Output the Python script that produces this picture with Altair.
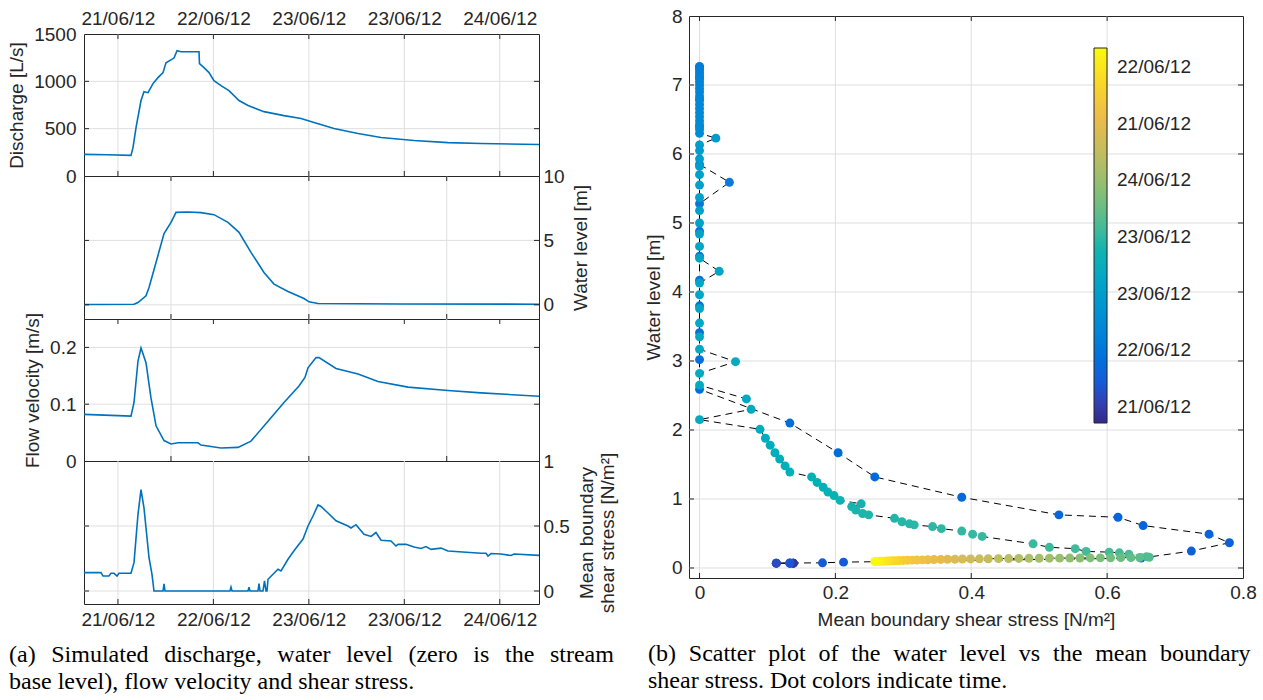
import altair as alt
import pandas as pd

INK = "#262626"
GRID_CLR = "#dfdfdf"
LINE_CLR = "#0072BD"
SANS = "Liberation Sans"
SERIF = "Liberation Serif"
FS = 19
TICK = 5

# ---------------------------------------------------------------------------
# Time axis: hours after 21/06/12 00:00
# ---------------------------------------------------------------------------
T_DOMAIN = [5.6, 91.4]
DATE_TICKS = [12, 30, 48, 66, 84]
DATE_LABELS = ["21/06/12", "22/06/12", "23/06/12", "23/06/12", "24/06/12"]
MID_TICKS = [22, 48, 74]

# Simulated discharge [L/s]
q_hours = [5.6, 10.0, 14.46, 14.84, 15.41, 16.35, 16.91, 17.67, 18.61, 19.55,
           20.50, 21.06, 22.38, 22.57, 23.14, 23.89, 27.29, 27.38, 28.23, 29.17,
           30.11, 31.43, 32.94, 34.83, 36.53, 39.54, 43.31, 46.52, 48.97, 52.74,
           57.27, 61.61, 67.83, 74.24, 80.46, 91.4]
q_values = [228, 224, 218, 300, 512, 797, 891, 880, 976, 1039,
            1092, 1197, 1240, 1247, 1324, 1313, 1313, 1187, 1145, 1092,
            1008, 955, 902, 797, 744, 680, 638, 607, 564, 501,
            448, 406, 375, 353, 343, 332]

# Water level [m]
wl_hours = [5.6, 15.03, 15.78, 17.29, 17.86, 19.18, 20.69, 22.01, 22.95, 25.21,
            27.66, 30.11, 32.75, 34.83, 37.09, 39.54, 41.43, 44.07, 47.08, 48.03,
            49.73, 65.38, 91.4]
wl_values = [0.03, 0.05, 0.18, 0.70, 1.35, 3.29, 5.53, 6.40, 7.18, 7.21,
             7.16, 7.00, 6.40, 5.63, 4.07, 2.51, 1.61, 1.04, 0.49, 0.23,
             0.10, 0.06, 0.05]

# Flow velocity [m/s]
v_hours = [5.6, 14.46, 15.03, 15.78, 16.35, 17.29, 18.23, 19.18, 20.69, 22.01,
           23.33, 27.10, 27.66, 31.43, 34.64, 37.09, 40.30, 43.31, 46.14, 47.27,
           47.84, 49.35, 49.92, 53.12, 57.27, 61.04, 66.70, 74.24, 80.46, 91.4]
v_values = [0.082, 0.079, 0.103, 0.176, 0.199, 0.173, 0.111, 0.062, 0.036, 0.030,
            0.032, 0.032, 0.028, 0.023, 0.024, 0.035, 0.070, 0.103, 0.132, 0.147,
            0.164, 0.182, 0.182, 0.163, 0.153, 0.140, 0.130, 0.124, 0.120, 0.114]

# Mean boundary shear stress [N/m2]
tau_hours = [5.6, 8.81, 9.18, 10.31, 10.69, 11.26, 11.82, 12.20, 14.46, 15.03,
             15.78, 16.35, 16.91, 17.86, 18.42, 18.80, 20.50, 20.69, 20.87, 33.13,
             33.32, 33.51, 36.53, 36.71, 36.90, 38.41, 38.60, 38.79, 39.35, 39.64,
             39.92, 40.11, 40.30, 42.18, 42.75, 44.07, 45.20, 46.90, 47.84, 48.78,
             49.73, 50.29, 51.61, 53.12, 55.38, 55.95, 56.89, 58.40, 59.72, 60.66,
             61.61, 63.49, 64.43, 64.81, 66.32, 67.83, 69.15, 70.09, 71.03, 72.92,
             74.24, 80.46, 81.41, 81.78, 82.35, 84.23, 86.12, 86.69, 91.4]
tau_values = [0.141, 0.141, 0.115, 0.115, 0.136, 0.136, 0.115, 0.136, 0.136, 0.218,
              0.590, 0.780, 0.640, 0.256, 0.128, 0.0, 0.0, 0.054, 0.0, 0.0,
              0.030, 0.0, 0.0, 0.030, 0.0, 0.0, 0.056, 0.0, 0.0, 0.077,
              0.0, 0.0, 0.090, 0.167, 0.154, 0.244, 0.310, 0.400, 0.500, 0.577,
              0.662, 0.650, 0.600, 0.540, 0.500, 0.485, 0.510, 0.436, 0.420, 0.450,
              0.390, 0.385, 0.346, 0.359, 0.360, 0.338, 0.327, 0.342, 0.320, 0.330,
              0.308, 0.290, 0.290, 0.269, 0.288, 0.285, 0.273, 0.285, 0.274]

# Scatter: time [h], shear stress [N/m2], water level [m]
sc_time = [6.0, 7.0, 8.0, 9.0, 10.0, 11.0, 12.0, 13.0, 14.0,
           14.8, 15.3, 15.8, 16.2, 16.5, 16.9, 17.3, 17.6, 17.9, 18.3, 18.7, 19.1, 19.5, 19.9,
           20.2, 20.5, 20.8, 21.1, 21.4, 21.7, 22.0, 22.3, 22.6, 22.9, 23.1, 23.3, 23.5,
           23.8, 24.1, 24.4, 24.7,
           25.0, 25.25, 25.5, 25.75, 26.0, 26.25, 26.5, 26.75, 27.0, 27.25, 27.5, 27.75, 28.0,
           28.25, 28.5, 28.75, 29.0,
           34.3, 34.6, 34.9, 35.2, 35.5, 35.8, 36.1, 36.4, 36.7, 37.0, 37.3, 37.6, 37.9,
           38.2, 38.5, 38.8, 39.1, 39.4, 39.6, 39.8, 40.0, 40.2, 40.4, 40.6, 40.8, 41.0, 41.2,
           41.5, 41.8, 42.1, 42.4, 42.7, 43.0, 43.3, 43.6, 43.9, 44.2, 44.5, 44.8, 45.1,
           45.4, 45.7, 46.0, 46.3, 46.6, 46.9, 47.2, 47.5, 47.8, 48.1, 48.4, 48.7, 49.0,
           49.3, 49.6, 49.9, 50.2, 50.5, 50.8, 51.1, 51.4,
           52, 53, 54, 55, 56, 57, 58, 59, 60, 61, 62, 63, 64, 65, 66, 67, 68, 69, 70, 71,
           72, 73, 74, 75, 76, 77, 78, 79, 80, 81, 82, 83, 84, 85, 86, 87, 88, 89, 90, 91]
sc_tau = [0.138, 0.138, 0.138, 0.113, 0.113, 0.133, 0.113, 0.133, 0.133,
          0.181, 0.212, 0.650, 0.724, 0.780, 0.750, 0.653, 0.616, 0.529, 0.386, 0.258, 0.204, 0.133, 0.0,
          0.0, 0.0, 0.0, 0.0, 0.0, 0.0, 0.0, 0.044, 0.0, 0.0, 0.0, 0.0, 0.0,
          0.0, 0.0, 0.0, 0.0,
          0.0, 0.0, 0.0, 0.0, 0.0, 0.0, 0.0, 0.0, 0.0, 0.0, 0.0, 0.0, 0.0,
          0.0, 0.0, 0.0, 0.0,
          0.024, 0.0, 0.0, 0.0, 0.0, 0.0, 0.0, 0.0, 0.0, 0.0, 0.0, 0.0, 0.0,
          0.029, 0.0, 0.0, 0.0, 0.0, 0.0, 0.0, 0.053, 0.0, 0.0, 0.069, 0.076, 0.0, 0.089,
          0.097, 0.104, 0.111, 0.118, 0.126, 0.133, 0.165, 0.173, 0.182, 0.189, 0.198, 0.207, 0.238,
          0.224, 0.230, 0.240, 0.249, 0.287, 0.298, 0.309, 0.316, 0.343, 0.356, 0.386, 0.402, 0.416,
          0.491, 0.515, 0.553, 0.569, 0.603, 0.618, 0.632, 0.658,
          0.662, 0.648, 0.635, 0.620, 0.605, 0.590, 0.575, 0.560, 0.545, 0.530, 0.515, 0.500,
          0.485, 0.470, 0.455, 0.440, 0.425, 0.412, 0.399, 0.387, 0.376, 0.365, 0.355, 0.345,
          0.336, 0.328, 0.320, 0.313, 0.306, 0.300, 0.294, 0.289, 0.284, 0.280, 0.276, 0.272,
          0.268, 0.265, 0.261, 0.258]
sc_level = [0.07, 0.07, 0.07, 0.07, 0.07, 0.07, 0.07, 0.07, 0.072,
            0.075, 0.085, 0.144, 0.245, 0.366, 0.490, 0.615, 0.735, 0.770, 1.025, 1.320, 1.670, 2.100, 2.59,
            3.02, 3.41, 3.80, 4.17, 4.52, 4.88, 5.28, 5.59, 5.85, 6.40, 6.80, 7.10, 7.25,
            7.27, 7.26, 7.24, 7.22,
            7.18, 7.14, 7.10, 7.05, 7.00, 6.95, 6.90, 6.84, 6.78, 6.72, 6.66, 6.60, 6.54,
            6.48, 6.42, 6.36, 6.30,
            6.23, 6.13, 6.05, 5.93, 5.82, 5.70, 5.55, 5.37, 5.18, 5.00, 4.84, 4.66, 4.49,
            4.30, 4.13, 3.96, 3.76, 3.55, 3.35, 3.17, 2.99, 2.82, 2.65, 2.45, 2.30, 2.15, 2.01,
            1.88, 1.78, 1.67, 1.58, 1.48, 1.39, 1.32, 1.24, 1.17, 1.10, 1.05, 0.98, 0.93,
            0.89, 0.84, 0.79, 0.77, 0.72, 0.67, 0.64, 0.625, 0.60, 0.57, 0.535, 0.49, 0.457,
            0.35, 0.30, 0.28, 0.24, 0.23, 0.22, 0.20, 0.164,
            0.155, 0.152, 0.150, 0.150, 0.148, 0.147, 0.146, 0.145, 0.144, 0.143, 0.142, 0.141,
            0.140, 0.139, 0.137, 0.136, 0.134, 0.133, 0.131, 0.130, 0.128, 0.126, 0.124, 0.122,
            0.120, 0.118, 0.116, 0.114, 0.112, 0.110, 0.108, 0.106, 0.104, 0.102, 0.100, 0.099,
            0.098, 0.097, 0.096, 0.095]

# Parula colour map sampled at 11 evenly spaced times across the record
PARULA_T = [5.6, 14.18, 22.76, 31.34, 39.92, 48.5, 57.08, 65.66, 74.24, 82.82, 91.4]
PARULA = ["#352a87", "#1a57d8", "#1079da", "#0c93d2", "#07a9c2", "#33b8a1",
          "#7cbf7b", "#b7bd64", "#e9b94e", "#f9d329", "#f9fb0e"]
CB_TICKS = [9.2, 22.2, 35.2, 48.1, 61.1, 74.1, 87.0]
CB_LABELS = ["21/06/12", "22/06/12", "23/06/12", "23/06/12", "24/06/12", "21/06/12", "22/06/12"]

# Captions; the first line of each is set justified with thin spaces
CAPTION_A = ["(a) Simulated discharge, water level (zero is the stream",
             "base level), flow velocity and shear stress."]
CAPTION_B = ["(b) Scatter plot of the water level vs the mean boundary",
             "shear stress. Dot colors indicate time."]

PANEL_W = 455
H_Q, H_WL, H_V, H_TAU = 142, 143, 142, 143
SC_W, SC_H = 554, 562


def justify(lines, gap):
    return [lines[0].replace(" ", " " + gap)] + lines[1:]


def label_expr(values, labels):
    expr = "''"
    for v, lab in reversed(list(zip(values, labels))):
        expr = f"abs(datum.value - {v}) < 0.01 ? '{lab}' : {expr}"
    return expr


def ticks_df(values):
    return pd.DataFrame({"v": values})


def grid_x(values, scale):
    return alt.Chart(ticks_df(values)).mark_rule(color=GRID_CLR, strokeWidth=1).encode(
        x=alt.X("v:Q", scale=scale, axis=None))


def grid_y(values, scale):
    return alt.Chart(ticks_df(values)).mark_rule(color=GRID_CLR, strokeWidth=1).encode(
        y=alt.Y("v:Q", scale=scale, axis=None))


def ticks_x(values, scale, height, side):
    y0, y1 = (0, TICK) if side == "top" else (height - TICK, height)
    return alt.Chart(ticks_df(values)).mark_rule(color=INK, strokeWidth=1).encode(
        x=alt.X("v:Q", scale=scale, axis=None), y=alt.value(y0), y2=alt.value(y1))


def ticks_y(values, scale, width, side):
    x0, x1 = (0, TICK) if side == "left" else (width - TICK, width)
    return alt.Chart(ticks_df(values)).mark_rule(color=INK, strokeWidth=1).encode(
        y=alt.Y("v:Q", scale=scale, axis=None), x=alt.value(x0), x2=alt.value(x1))


def time_axis(orient, pad):
    return alt.Axis(orient=orient, values=DATE_TICKS,
                    labelExpr=label_expr(DATE_TICKS, DATE_LABELS),
                    title=None, labelPadding=pad)


def left_axis(values, title):
    return alt.Axis(orient="left", values=values, title=title, format="~r",
                    labelPadding=8, titlePadding=7)


def right_axis(values, title, title_pad):
    return alt.Axis(orient="right", values=values, title=title, format="~r",
                    labelPadding=4, titlePadding=title_pad, titleAngle=270,
                    titleBaseline="top", titleLineHeight=21)


x_time = alt.Scale(domain=T_DOMAIN, nice=False, zero=False)


def series(hours, values, yscale, xaxis, yaxis):
    df = pd.DataFrame({"h": hours, "val": values})
    return alt.Chart(df).mark_line(color=LINE_CLR, strokeWidth=1.6, clip=True).encode(
        x=alt.X("h:Q", scale=x_time, axis=xaxis),
        y=alt.Y("val:Q", scale=yscale, axis=yaxis))


def panel(layers, width, height, **props):
    # guides come only from the data layer; helper layers draw grid and ticks
    return alt.layer(*layers).resolve_axis(x="independent", y="independent").properties(
        width=width, height=height, **props)


# ---------------------------------------------------------------------------
# Left column: four stacked time series
# ---------------------------------------------------------------------------
y_q = alt.Scale(domain=[0, 1500], nice=False, zero=False)
y_wl = alt.Scale(domain=[-1.1, 10], nice=False, zero=False)
y_v = alt.Scale(domain=[0, 0.25], nice=False, zero=False)
y_tau = alt.Scale(domain=[-0.1, 1], nice=False, zero=False)

p_q = panel([
    grid_y([500, 1000], y_q), grid_x(DATE_TICKS, x_time),
    series(q_hours, q_values, y_q, time_axis("top", 6),
           left_axis([0, 500, 1000, 1500], "Discharge [L/s]")),
    ticks_x(DATE_TICKS, x_time, H_Q, "top"), ticks_x(DATE_TICKS, x_time, H_Q, "bottom"),
    ticks_y([500, 1000], y_q, PANEL_W, "left"), ticks_y([500, 1000], y_q, PANEL_W, "right"),
], PANEL_W, H_Q)

p_wl = panel([
    grid_y([0, 5], y_wl), grid_x(MID_TICKS, x_time),
    series(wl_hours, wl_values, y_wl, None,
           right_axis([0, 5, 10], "Water level [m]", 7)),
    ticks_x(MID_TICKS, x_time, H_WL, "top"), ticks_x(MID_TICKS, x_time, H_WL, "bottom"),
    ticks_y([0, 5], y_wl, PANEL_W, "left"), ticks_y([0, 5], y_wl, PANEL_W, "right"),
], PANEL_W, H_WL)

p_v = panel([
    grid_y([0.1, 0.2], y_v), grid_x(MID_TICKS, x_time),
    series(v_hours, v_values, y_v, None,
           left_axis([0, 0.1, 0.2], "Flow velocity [m/s]")),
    ticks_x(DATE_TICKS, x_time, H_V, "top"), ticks_x(MID_TICKS, x_time, H_V, "bottom"),
    ticks_y([0.1, 0.2], y_v, PANEL_W, "left"), ticks_y([0.1, 0.2], y_v, PANEL_W, "right"),
], PANEL_W, H_V)

p_tau = panel([
    grid_y([0, 0.5], y_tau), grid_x(DATE_TICKS, x_time),
    series(tau_hours, tau_values, y_tau, time_axis("bottom", 6.5),
           right_axis([0, 0.5, 1], ["Mean boundary", "shear stress [N/m²]"], -13)),
    ticks_x(DATE_TICKS, x_time, H_TAU, "bottom"),
    ticks_y([0, 0.5], y_tau, PANEL_W, "left"), ticks_y([0, 0.5], y_tau, PANEL_W, "right"),
], PANEL_W, H_TAU,
    title=alt.TitleParams(
        text=justify(CAPTION_A, "\u2009\u2009"),
        orient="bottom", anchor="start", frame="group", dx=-75, offset=13,
        lineHeight=27),
)

spacer = alt.Chart(pd.DataFrame({"v": [0]})).mark_point(opacity=0).encode(
    x=alt.X("v:Q", axis=None), y=alt.Y("v:Q", axis=None)
).properties(width=PANEL_W, height=18, view=alt.ViewBackground(strokeOpacity=0))

left = alt.vconcat(spacer, p_q, p_wl, p_v, p_tau, spacing=0, bounds="flush")

# ---------------------------------------------------------------------------
# Right: water level against shear stress, coloured by time
# ---------------------------------------------------------------------------
sc_df = pd.DataFrame({"t": sc_time, "tau": sc_tau, "wl": sc_level})
x_sc = alt.Scale(domain=[-0.0155, 0.8], nice=False, zero=False)
y_sc = alt.Scale(domain=[-0.145, 8], nice=False, zero=False)
X_VALS = [0, 0.2, 0.4, 0.6, 0.8]
Y_VALS = [0, 1, 2, 3, 4, 5, 6, 7, 8]

path = alt.Chart(sc_df).mark_line(color="black", strokeWidth=1, strokeDash=[7, 5]).encode(
    x=alt.X("tau:Q", scale=x_sc, axis=None),
    y=alt.Y("wl:Q", scale=y_sc, axis=None),
    order="t:Q",
)

dots = alt.Chart(sc_df).mark_circle(size=80, opacity=1).encode(
    x=alt.X("tau:Q", scale=x_sc,
            axis=alt.Axis(values=X_VALS, format="~r", title="Mean boundary shear stress [N/m²]",
                          labelPadding=5.5, titlePadding=8)),
    y=alt.Y("wl:Q", scale=y_sc,
            axis=alt.Axis(values=Y_VALS, format="~r", title="Water level [m]",
                          labelPadding=7, titlePadding=8)),
    color=alt.Color(
        "t:Q",
        scale=alt.Scale(domain=PARULA_T, range=PARULA),
        legend=alt.Legend(
            orient="none", legendX=405, legendY=32, direction="vertical",
            gradientLength=375, gradientThickness=13, title=None,
            values=CB_TICKS, labelExpr=label_expr(CB_TICKS, CB_LABELS),
            labelFont=SANS, labelFontSize=FS, labelColor=INK, labelOffset=10,
            labelOverlap=False, gradientStrokeColor=INK, gradientStrokeWidth=1,
            padding=0,
        ),
    ),
)

scatter = panel([
    grid_x([0, 0.2, 0.4, 0.6], x_sc), grid_y([0, 1, 2, 3, 4, 5, 6, 7], y_sc),
    path, dots,
    ticks_x([0, 0.2, 0.4, 0.6], x_sc, SC_H, "bottom"), ticks_x([0, 0.2, 0.4, 0.6], x_sc, SC_H, "top"),
    ticks_y([0, 1, 2, 3, 4, 5, 6, 7], y_sc, SC_W, "left"),
    ticks_y([0, 1, 2, 3, 4, 5, 6, 7], y_sc, SC_W, "right"),
], SC_W, SC_H,
    title=alt.TitleParams(
        text=justify(CAPTION_B, "\u2009\u200a"),
        orient="bottom", anchor="start", frame="group", dx=-41, offset=12,
        lineHeight=27),
)

chart = alt.hconcat(left, scatter, spacing=25).resolve_scale(color="independent").properties(
    padding={"left": 7, "top": 6, "right": 5, "bottom": 5},
    background="white",
).configure(font=SANS).configure_axis(
    labelFont=SANS, labelFontSize=FS, labelColor=INK,
    titleFont=SANS, titleFontSize=FS, titleColor=INK, titleFontWeight="normal",
    ticks=False, domain=False, grid=False, labelFlush=False, labelOverlap=False,
).configure_view(stroke=INK, strokeWidth=1).configure_title(
    font=SERIF, fontSize=24, fontWeight="normal", color="black",
)

chart.save("out.html", embed_options={"renderer": "svg", "actions": False})
